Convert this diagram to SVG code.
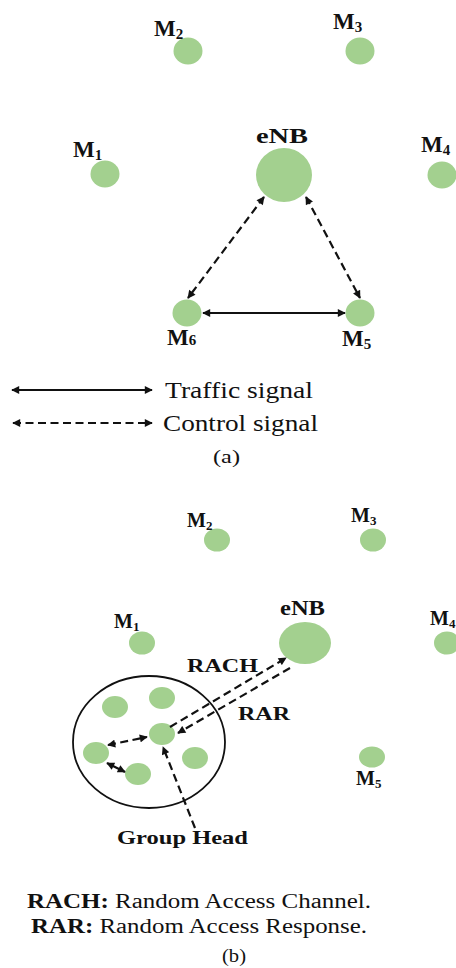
<svg xmlns="http://www.w3.org/2000/svg" width="456" height="968" viewBox="0 0 456 968">
<style>
.n{fill:#a3d08f}
.lb{font-family:"Liberation Serif","Times New Roman",serif;font-weight:bold;fill:#111}
.la{font-size:23px}
.lbb{font-size:20px}
.sub{font-size:15px}
.subb{font-size:13px}
.tx{font-family:"Liberation Serif","Times New Roman",serif;fill:#111}
.c{stroke:#111;stroke-width:2.2;fill:none}
.d{stroke-dasharray:8 4.5}
.ar{marker-end:url(#ah)}
.ab{marker-start:url(#ah);marker-end:url(#ah)}
</style>
<defs>
<marker id="ah" viewBox="0 0 10 10" refX="9" refY="5" markerUnits="userSpaceOnUse" markerWidth="10" markerHeight="8" orient="auto-start-reverse">
<path d="M0,0 L10,5 L0,10 z" fill="#111"/>
</marker>
</defs>
<rect width="456" height="968" fill="#fff"/>

<!-- (a) -->
<g id="a-M2"><ellipse class="n" cx="188" cy="51" rx="14.5" ry="13.5"/><text class="lb la" x="154" y="36">M<tspan class="sub" dy="3">2</tspan></text></g>
<g id="a-M3"><ellipse class="n" cx="360" cy="51" rx="14.5" ry="13.5"/><text class="lb la" x="333" y="29">M<tspan class="sub" dy="3">3</tspan></text></g>
<g id="a-M1"><ellipse class="n" cx="105" cy="174" rx="14.5" ry="13.5"/><text class="lb la" x="73" y="157">M<tspan class="sub" dy="3">1</tspan></text></g>
<g id="a-eNB"><ellipse class="n" cx="284" cy="175" rx="28" ry="27"/><text class="lb" font-size="22" x="256" y="143" textLength="52" lengthAdjust="spacingAndGlyphs">eNB</text></g>
<g id="a-M4"><ellipse class="n" cx="442" cy="175" rx="14.5" ry="13.5"/><text class="lb la" x="421" y="152">M<tspan class="sub" dy="3">4</tspan></text></g>
<g id="a-M6"><ellipse class="n" cx="187" cy="313" rx="14.5" ry="13.5"/><text class="lb la" x="167" y="345">M<tspan class="sub" dy="0">6</tspan></text></g>
<g id="a-M5"><ellipse class="n" cx="360" cy="313" rx="14.5" ry="13.5"/><text class="lb la" x="342" y="346">M<tspan class="sub" dy="3">5</tspan></text></g>

<g id="connectors-a">
<line class="c d ab" x1="264" y1="197" x2="188" y2="298"/>
<line class="c d ab" x1="306" y1="197" x2="360" y2="298"/>
<line class="c ab" x1="203" y1="313" x2="345" y2="313"/>
</g>

<g id="legend">
<line class="c ab" x1="12" y1="390" x2="152" y2="390"/>
<line class="c d ab" x1="13" y1="423" x2="152" y2="423"/>
<text class="tx" font-size="23" x="165" y="398" textLength="148" lengthAdjust="spacingAndGlyphs">Traffic signal</text>
<text class="tx" font-size="23" x="163" y="431" textLength="155" lengthAdjust="spacingAndGlyphs">Control signal</text>
<text class="tx" font-size="18" x="213" y="463" textLength="27" lengthAdjust="spacingAndGlyphs">(a)</text>
</g>

<!-- (b) -->
<g id="b-M2"><ellipse class="n" cx="217" cy="540" rx="13" ry="11.5"/><text class="lb lbb" x="187" y="527">M<tspan class="subb" dy="3">2</tspan></text></g>
<g id="b-M3"><ellipse class="n" cx="373" cy="540" rx="13" ry="11.5"/><text class="lb lbb" x="351" y="522">M<tspan class="subb" dy="3">3</tspan></text></g>
<g id="b-M1"><ellipse class="n" cx="142" cy="643" rx="13" ry="11.5"/><text class="lb lbb" x="114" y="628">M<tspan class="subb" dy="3">1</tspan></text></g>
<g id="b-eNB"><ellipse class="n" cx="305" cy="643" rx="26" ry="21"/><text class="lb" font-size="20" x="280" y="615" textLength="45" lengthAdjust="spacingAndGlyphs">eNB</text></g>
<g id="b-M4"><ellipse class="n" cx="447" cy="643" rx="13" ry="11.5"/><text class="lb lbb" x="430" y="625">M<tspan class="subb" dy="3">4</tspan></text></g>
<g id="b-M5"><ellipse class="n" cx="372" cy="757" rx="13" ry="10.5"/><text class="lb lbb" x="356" y="785">M<tspan class="subb" dy="3">5</tspan></text></g>

<g id="b-group">
<ellipse cx="149" cy="742" rx="76" ry="66" fill="none" stroke="#111" stroke-width="1.8"/>
<ellipse class="n" cx="115" cy="707" rx="13" ry="11"/>
<ellipse class="n" cx="162" cy="698" rx="13" ry="11"/>
<ellipse class="n" cx="96" cy="753" rx="13" ry="11"/>
<ellipse class="n" cx="195" cy="758" rx="13" ry="11"/>
<ellipse class="n" cx="138" cy="774" rx="13" ry="11"/>
</g>
<g id="b-GH"><ellipse class="n" cx="162" cy="734" rx="13" ry="11"/><text class="lb" font-size="19" x="117" y="844" textLength="131" lengthAdjust="spacingAndGlyphs">Group Head</text></g>

<g id="connectors-b">
<line class="c d ar" x1="170" y1="727" x2="286" y2="658"/>
<line class="c d ar" x1="290" y1="668" x2="178" y2="733"/>
<line class="c d ab" x1="108" y1="745" x2="147" y2="737"/>
<line class="c ab" x1="107" y1="763" x2="125" y2="772" stroke-width="1.6"/>
<line class="c d ar" x1="195" y1="828" x2="163" y2="747"/>
<text class="lb" font-size="18" x="187" y="672" textLength="71" lengthAdjust="spacingAndGlyphs">RACH</text>
<text class="lb" font-size="18" x="238" y="720" textLength="52" lengthAdjust="spacingAndGlyphs">RAR</text>
</g>

<g id="caption-b">
<text class="tx" font-size="20" x="27" y="908" textLength="344" lengthAdjust="spacingAndGlyphs"><tspan font-weight="bold">RACH:</tspan> Random Access Channel.</text>
<text class="tx" font-size="20" x="31" y="933" textLength="336" lengthAdjust="spacingAndGlyphs"><tspan font-weight="bold">RAR:</tspan> Random Access Response.</text>
<text class="tx" font-size="18" x="222" y="962" textLength="24" lengthAdjust="spacingAndGlyphs">(b)</text>
</g>
</svg>
